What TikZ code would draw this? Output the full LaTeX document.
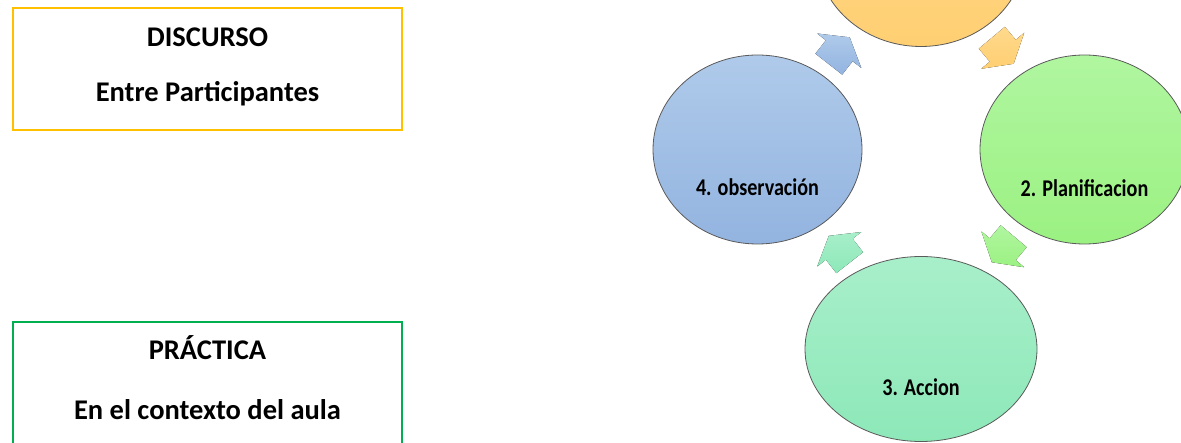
\documentclass[tikz,border=0pt]{standalone}
\usepackage{fontspec}
\setmainfont{Carlito}
\usetikzlibrary{shapes.geometric,calc}

\definecolor{boxyellow}{HTML}{FFC000}
\definecolor{boxgreen}{HTML}{00B050}
\definecolor{stageline}{HTML}{5A5A5A}
\definecolor{orangetop}{HTML}{FFD98C}
\definecolor{orangebot}{HTML}{FFCF72}
\definecolor{bluetop}{HTML}{AFCAEA}
\definecolor{bluebot}{HTML}{93B4E0}
\definecolor{greentop}{HTML}{B0F6A0}
\definecolor{greenbot}{HTML}{9BF182}
\definecolor{tealtop}{HTML}{A8EFCA}
\definecolor{tealbot}{HTML}{8DE8B8}

\newcommand{\squeezed}[1]{\scalebox{0.84}[1]{#1}}

\begin{document}
\begin{tikzpicture}[x=1pt, y=-1pt,
        stage/.style={ellipse, draw=stageline, line width=0.8pt, inner sep=0pt,
            minimum width=209pt, minimum height=189pt},
        stagelabel/.style={font=\bfseries\fontsize{24}{29}\selectfont, anchor=base, inner sep=0pt},
        boxtext/.style={font=\bfseries\fontsize{28.5}{34}\selectfont, anchor=base, inner sep=0pt},
        framebox/.style={draw=#1, line width=2pt, minimum width=389pt, minimum height=122pt, inner sep=0pt},
        pics/cyclearrow/.style 2 args={code={
            \fill[top color=#1, bottom color=#2]
                (-17,17) -- (0,17) -- (0,28) -- (17,0) -- (0,-28) -- (0,-17) -- (-17,-17) -- cycle;
        }}]
    \useasboundingbox (0,0) rectangle (1181,443);
    \clip (0,0) rectangle (1181,443);

    % left side boxes
    \node[framebox=boxyellow] (discurso) at (207.5,69) {};
    \node[boxtext] (discursoA) at (207.5,47) {DISCURSO};
    \node[boxtext] (discursoB) at (207.5,102) {Entre Participantes};

    \node[framebox=boxgreen, minimum height=124pt] (practica) at (207.5,384) {};
    \node[boxtext] (practicaA) at (207.5,360) {PRÁCTICA};
    \node[boxtext] (practicaB) at (207.5,420) {En el contexto del aula};

    % cycle
    \begin{scope}[every node/.style={stage}]
        \node[top color=orangetop, bottom color=orangebot] (c1) at (921,-48) {};
        \node[top color=greentop, bottom color=greenbot] (c2) at (1084.5,149.5) {};
        \node[top color=tealtop, bottom color=tealbot, minimum width=232pt, minimum height=185pt] (c3) at (921,349) {};
        \node[top color=bluetop, bottom color=bluebot] (c4) at (757.5,149.5) {};
    \end{scope}

    \node[stagelabel] (t2) at ([yshift=-47pt]c2.center) {\squeezed{2. Planificacion}};
    \node[stagelabel] (t3) at ([yshift=-47pt]c3.center) {\squeezed{3. Accion}};
    \node[stagelabel] (t4) at ([yshift=-46.5pt]c4.center) {\squeezed{4. observación}};

    \pic[rotate=-50] at ($(c1)!0.5!(c2)$) {cyclearrow={orangetop}{orangebot}};
    \pic[rotate=-130] at ($(c2)!0.5!(c3)$) {cyclearrow={greentop}{greenbot}};
    \pic[rotate=128] at ($(c3)!0.5!(c4)$) {cyclearrow={tealtop}{tealbot}};
    \pic[rotate=52] at ($(c4)!0.5!(c1)$) {cyclearrow={bluetop}{bluebot}};
\end{tikzpicture}
\end{document}
